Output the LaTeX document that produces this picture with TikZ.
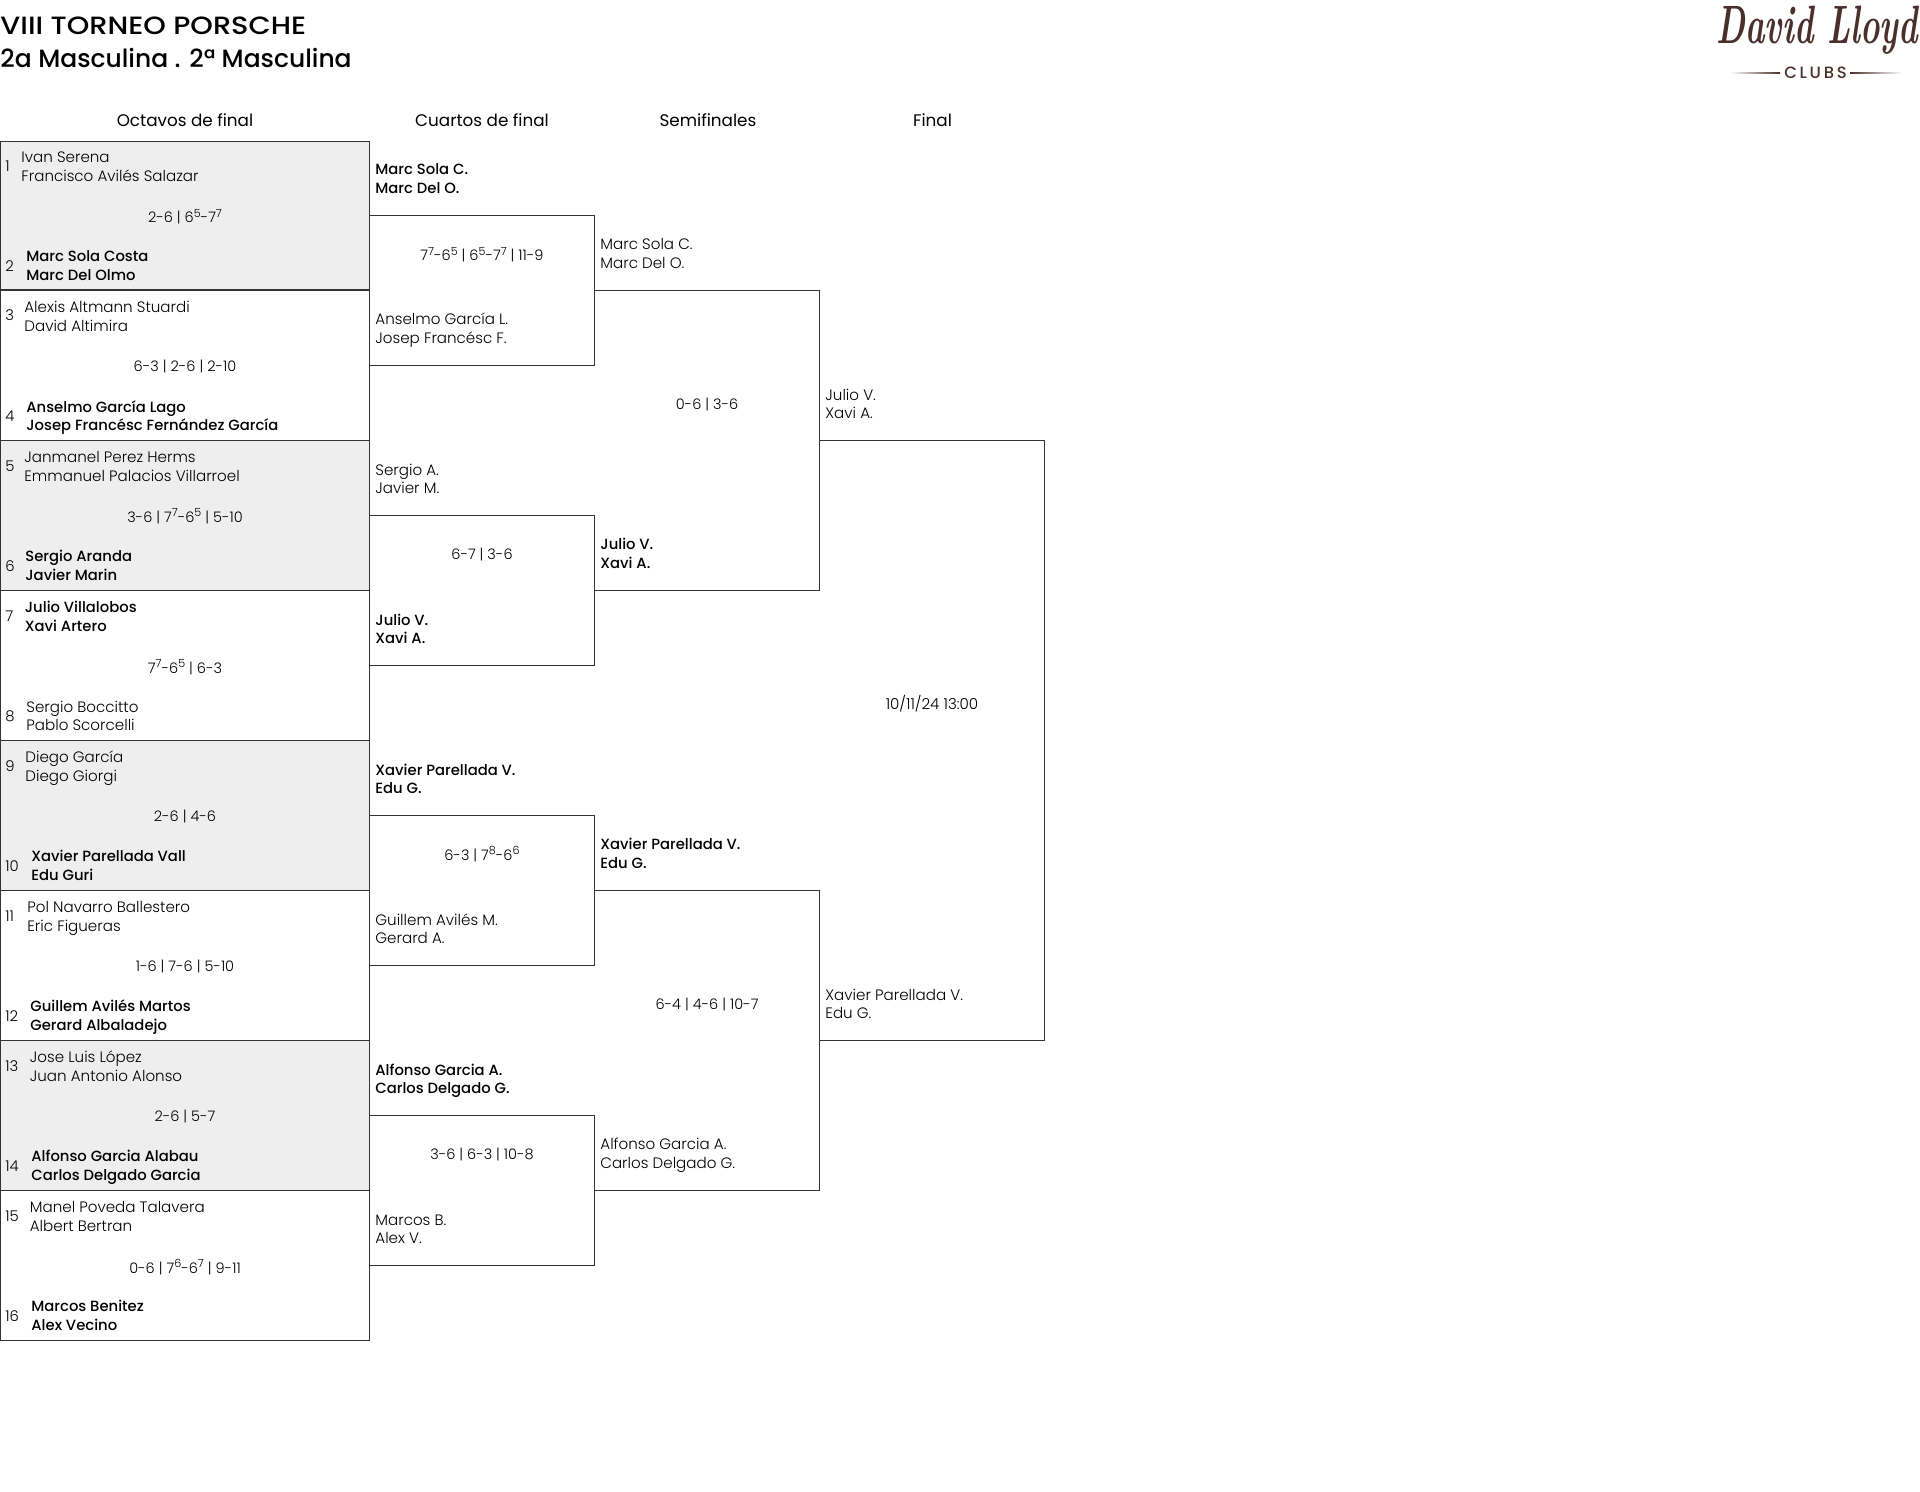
\documentclass[tikz,border=0pt]{standalone}
\usepackage{fontspec}
\setmainfont{Poppins Light}[BoldFont=Poppins Medium]
\newfontfamily\titlefont{Poppins}
\newfontfamily\cabezafont{Poppins Medium}
\newfontfamily\logofont{Latin Modern Roman}
\usepackage{tikz}
\usetikzlibrary{positioning}
\definecolor{lineagris}{HTML}{333333}
\definecolor{fondogris}{HTML}{EEEEEE}
\definecolor{marron}{HTML}{4A2F2B}
\newcommand{\sups}[1]{\raisebox{2.9pt}{\fontsize{5.6}{6}\selectfont #1}}
\tikzset{
  octbox/.style={draw=lineagris, line width=0.5pt, minimum width=184.5pt, minimum height=75pt, inner sep=0pt, outer sep=0pt},
  cuabox/.style={draw=lineagris, line width=0.5pt, minimum width=112.25pt, minimum height=75pt, inner sep=0pt, outer sep=0pt},
  bracket/.style={draw=lineagris, line width=0.5pt},
  pareja/.style={anchor=west, align=left, inner sep=0pt, text height=15.7pt, text depth=0pt, font=\fontsize{7.55}{9.35}\selectfont, text=black},
  ganador/.style={pareja, font=\fontsize{7.4}{9.35}\selectfont\bfseries},
  numero/.style={anchor=west, inner sep=0pt, text height=5.6pt, text depth=0pt, font=\fontsize{7.4}{9.35}\selectfont, text=black},
  marcador/.style={anchor=base, inner sep=0pt, font=\fontsize{7.25}{9.35}\selectfont, text=black},
  ronda/.style={inner sep=0pt, font=\titlefont\fontsize{8.4}{10}\selectfont},
  titulo/.style={anchor=west, inner sep=0pt, font=\cabezafont\fontsize{12.5}{15}\selectfont}
}
\begin{document}
\begin{tikzpicture}[x=0.5pt, y=-0.5pt]
  \useasboundingbox (0,0) rectangle (1920,1492);

  % Cabecera
  \node[titulo, xscale=1.15] (tit1) at (0,25.5) {VIII TORNEO PORSCHE};
  \node[titulo] (tit2) at (0,58) {2a Masculina . 2ª Masculina};
  \node[inner sep=0pt, text=marron, xscale=0.61, font=\logofont\fontsize{27}{27}\selectfont\bfseries\itshape] (logo) at (1817,30) {David Lloyd};
  \node[inner sep=0pt, text=marron, font=\cabezafont\fontsize{8.2}{9}\selectfont] (clubs) at (1815.5,73) {C\,L\,U\,B\,S};
  \shade[left color=white, right color=marron] (1730,72.2) rectangle (1780,73.4);
  \shade[left color=marron, right color=white] (1850,72.2) rectangle (1902,73.4);

  % Rondas
  \node[ronda] (r1) at (185,120) {Octavos de final};
  \node[ronda] (r2) at (482,120) {Cuartos de final};
  \node[ronda] (r3) at (708,120) {Semifinales};
  \node[ronda] (r4) at (932.5,120) {Final};

  % Octavos
  \node[octbox, fill=fondogris, minimum height=74.5pt] (oct1) at (185,215.75) {};
  \node[octbox] (oct2) at (185,365) {};
  \node[octbox, fill=fondogris] (oct3) at (185,515) {};
  \node[octbox] (oct4) at (185,665) {};
  \node[octbox, fill=fondogris] (oct5) at (185,815) {};
  \node[octbox] (oct6) at (185,965) {};
  \node[octbox, fill=fondogris] (oct7) at (185,1115) {};
  \node[octbox] (oct8) at (185,1265) {};

  % Cuartos
  \node[cuabox] (cua1) at (481.75,290.5) {};
  \node[cuabox] (cua2) at (481.75,590) {};
  \node[cuabox] (cua3) at (481.75,890) {};
  \node[cuabox] (cua4) at (481.75,1190) {};

  % Semifinales y final
  \draw[bracket] (cua1.east) -- ++(225,0) |- (cua2.east);
  \draw[bracket] (cua3.east) -- ++(225,0) |- (cua4.east);
  \coordinate (sem1) at (819,440);
  \coordinate (sem2) at (819,1040);
  \draw[bracket] (sem1) -- ++(225.5,0) |- (sem2);

  % Numeros
  \node[numero] (n1) at (5,166) {1};
  \node[numero] (n2) at (5,265.5) {2};
  \node[numero] (n3) at (5,315) {3};
  \node[numero] (n4) at (5,415.5) {4};
  \node[numero] (n5) at (5,465.5) {5};
  \node[numero] (n6) at (5,565.5) {6};
  \node[numero] (n7) at (5,615.5) {7};
  \node[numero] (n8) at (5,715.5) {8};
  \node[numero] (n9) at (5,765.5) {9};
  \node[numero] (n10) at (5,865.5) {10};
  \node[numero] (n11) at (5,915.5) {11};
  \node[numero] (n12) at (5,1015.5) {12};
  \node[numero] (n13) at (5,1065.5) {13};
  \node[numero] (n14) at (5,1165.5) {14};
  \node[numero] (n15) at (5,1215.5) {15};
  \node[numero] (n16) at (5,1315.5) {16};

  % Parejas de octavos
  \node[pareja] (p1) at (21,166) {Ivan Serena\\Francisco Avilés Salazar};
  \node[ganador] (p2) at (26,265) {Marc Sola Costa\\Marc Del Olmo};
  \node[pareja] (p3) at (24,315.5) {Alexis Altmann Stuardi\\David Altimira};
  \node[ganador] (p4) at (26,415) {Anselmo García Lago\\Josep Francésc Fernández García};
  \node[pareja] (p5) at (24,465.5) {Janmanel Perez Herms\\Emmanuel Palacios Villarroel};
  \node[ganador] (p6) at (25,564.5) {Sergio Aranda\\Javier Marin};
  \node[ganador] (p7) at (24.5,615.5) {Julio Villalobos\\Xavi Artero};
  \node[pareja] (p8) at (26,715) {Sergio Boccitto\\Pablo Scorcelli};
  \node[pareja] (p9) at (25,765.5) {Diego García\\Diego Giorgi};
  \node[ganador] (p10) at (31,864.5) {Xavier Parellada Vall\\Edu Guri};
  \node[pareja] (p11) at (27,915.5) {Pol Navarro Ballestero\\Eric Figueras};
  \node[ganador] (p12) at (30,1014.5) {Guillem Avilés Martos\\Gerard Albaladejo};
  \node[pareja] (p13) at (29.5,1065.5) {Jose Luis López\\Juan Antonio Alonso};
  \node[ganador] (p14) at (31,1164.5) {Alfonso Garcia Alabau\\Carlos Delgado Garcia};
  \node[pareja] (p15) at (29.5,1215.5) {Manel Poveda Talavera\\Albert Bertran};
  \node[ganador] (p16) at (31,1314.5) {Marcos Benitez\\Alex Vecino};

  % Marcadores de octavos
  \node[marcador] (m1) at (185,223) {2-6 | 6\sups{5}-7\sups{7}};
  \node[marcador] (m2) at (185,371.5) {6-3 | 2-6 | 2-10};
  \node[marcador] (m3) at (185,522.5) {3-6 | 7\sups{7}-6\sups{5} | 5-10};
  \node[marcador] (m4) at (185,673) {7\sups{7}-6\sups{5} | 6-3};
  \node[marcador] (m5) at (185,821) {2-6 | 4-6};
  \node[marcador] (m6) at (185,971) {1-6 | 7-6 | 5-10};
  \node[marcador] (m7) at (185,1121) {2-6 | 5-7};
  \node[marcador] (m8) at (185,1273) {0-6 | 7\sups{6}-6\sups{7} | 9-11};

  % Parejas y marcadores de cuartos
  \node[ganador] (c1) at (375,178) {Marc Sola C.\\Marc Del O.};
  \node[marcador] (mc1) at (482,261) {7\sups{7}-6\sups{5} | 6\sups{5}-7\sups{7} | 11-9};
  \node[pareja] (c2) at (375,328) {Anselmo García L.\\Josep Francésc F.};
  \node[pareja] (c3) at (375,478) {Sergio A.\\Javier M.};
  \node[marcador] (mc2) at (482,559) {6-7 | 3-6};
  \node[ganador] (c4) at (375,628) {Julio V.\\Xavi A.};
  \node[ganador] (c5) at (375,778) {Xavier Parellada V.\\Edu G.};
  \node[marcador] (mc3) at (482,860) {6-3 | 7\sups{8}-6\sups{6}};
  \node[pareja] (c6) at (375,928) {Guillem Avilés M.\\Gerard A.};
  \node[ganador] (c7) at (375,1078) {Alfonso Garcia A.\\Carlos Delgado G.};
  \node[marcador] (mc4) at (482,1159) {3-6 | 6-3 | 10-8};
  \node[pareja] (c8) at (375,1228) {Marcos B.\\Alex V.};

  % Parejas y marcadores de semifinales
  \node[pareja] (s1) at (600,253) {Marc Sola C.\\Marc Del O.};
  \node[marcador] (ms1) at (707,409) {0-6 | 3-6};
  \node[ganador] (s2) at (600,552.5) {Julio V.\\Xavi A.};
  \node[ganador] (s3) at (600,852.5) {Xavier Parellada V.\\Edu G.};
  \node[marcador] (ms2) at (707,1009) {6-4 | 4-6 | 10-7};
  \node[pareja] (s4) at (600,1152.5) {Alfonso Garcia A.\\Carlos Delgado G.};

  % Final
  \node[pareja] (f1) at (825,403) {Julio V.\\Xavi A.};
  \node[marcador, font=\fontsize{7.55}{9.35}\selectfont] (fecha) at (932,709) {10/11/24 13:00};
  \node[pareja] (f2) at (825,1003) {Xavier Parellada V.\\Edu G.};
\end{tikzpicture}
\end{document}
